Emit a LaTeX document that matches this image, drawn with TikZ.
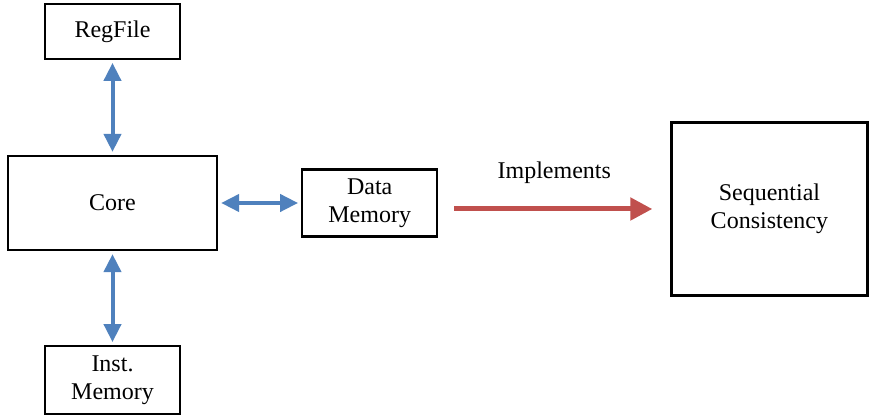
\documentclass[tikz,border=0pt]{standalone}
\usepackage{fontspec}
\setmainfont{Liberation Serif}
\usetikzlibrary{arrows.meta, positioning}
\definecolor{linkblue}{RGB}{79, 129, 189}
\definecolor{implred}{RGB}{192, 80, 77}

\begin{document}
\begin{tikzpicture}[
    x=0.5pt, y=-0.5pt,
    node distance=47pt,
    box/.style={rectangle, draw, line width=1.1pt, align=center, inner sep=2pt, font=\fontsize{12}{14}\selectfont},
    link/.style={{Triangle[length=9pt, width=8.5pt]}-{Triangle[length=9pt, width=8.5pt]}, line width=2pt, linkblue, shorten >=1.5pt, shorten <=1.5pt},
    implarrow/.style={-{Triangle[length=11pt, width=11pt]}, line width=2.5pt, implred},
    label/.style={font=\fontsize{12}{14}\selectfont, text=black}
]
\useasboundingbox (0,0) rectangle (872,415);

% ========== PROCESSOR ==========
\node[box, minimum width=104.5pt, minimum height=47pt] (core) at (112.5,203) {Core};

\node[box, minimum width=67.5pt, minimum height=27.5pt, above=47.5pt of core] (regfile) {RegFile};

\node[box, minimum width=67.5pt, minimum height=34pt, below=47pt of core] (imem) {Inst.\\Memory};

\node[box, minimum width=67.5pt, minimum height=33.5pt, right=41.5pt of core] (dmem) {Data\\Memory};

% ========== MEMORY MODEL ==========
\node[box, minimum width=98pt, minimum height=86.5pt, right=116pt of dmem, yshift=-3pt] (sc) {Sequential\\Consistency};

% ========== ARROWS ==========
\draw[link] (regfile.south) -- (core.north);
\draw[link] (core.south) -- (imem.north);
\draw[link] (core.east) -- (dmem.west);

\draw[implarrow, shorten <=8pt, shorten >=9pt] (dmem.east |- sc.west) -- node[label, above=8pt] (impl) {Implements} (sc.west);

\end{tikzpicture}
\end{document}
